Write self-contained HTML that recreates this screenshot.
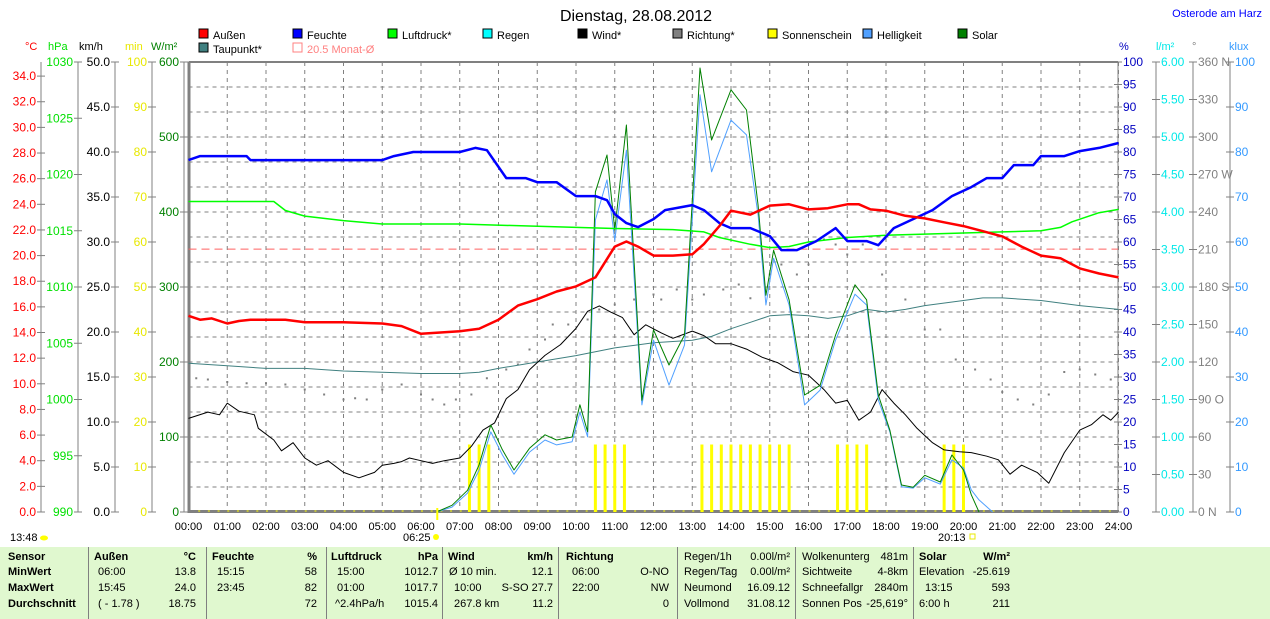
<!DOCTYPE html>
<html><head><meta charset="utf-8">
<style>
body{margin:0;background:#fff;width:1270px;height:619px;overflow:hidden;position:relative;font-family:"Liberation Sans",sans-serif}
svg{position:absolute;left:0;top:0}
#tbl{position:absolute;left:0;top:547px;width:1270px;height:72px;background:#e0f8cf;font-size:11px}
#tbl span{position:absolute;white-space:nowrap}
.b{font-weight:bold}
.sep{position:absolute;top:0;width:1px;height:72px;background:#808080}
</style></head><body>
<svg id="chart" width="1270" height="619"></svg>
<div id="tbl"></div>
<script>
// ---- data ----
const tempT=[0,0.3,0.6,1.0,1.3,1.6,2.0,2.5,3.0,4.0,5.0,5.5,6.0,6.5,7.0,7.5,8.0,8.5,9.0,9.5,10.0,10.5,11.0,11.3,11.6,12.0,12.5,13.0,13.3,13.7,14.0,14.5,15.0,15.5,16.0,16.5,17.0,17.3,17.6,18.0,18.5,19.0,19.5,20.0,20.5,21.0,21.5,22.0,22.5,23.0,23.5,24.0];
const tempV=[15.3,15.0,15.1,14.7,14.9,15.0,15.0,15.0,14.8,14.8,14.7,14.5,13.9,14.0,14.1,14.3,15.0,16.1,16.6,17.2,17.6,18.3,20.7,21.1,20.7,20.0,20.0,20.1,20.9,22.3,23.5,23.2,23.9,24.0,23.6,23.7,24.0,24.0,23.6,23.5,23.1,22.9,22.6,22.3,21.9,21.5,20.7,20.0,19.8,19.0,18.6,18.3];
const humT=[0,0.3,1.5,1.6,5.0,5.3,5.8,7.0,7.4,7.7,8.2,8.7,9.0,9.5,10.0,10.5,10.8,11.0,11.3,11.6,12.0,12.3,13.0,13.3,13.7,14.0,14.5,15.0,15.3,15.7,16.2,16.7,17.0,17.5,17.8,18.2,18.7,19.2,19.7,20.2,20.6,21.0,21.3,21.8,22.0,22.6,23.0,23.5,24.0];
const humV=[78.2,79.1,79.1,78.2,78.2,79.1,80,80,80.9,80.4,74.2,74.2,73.3,73.3,70.2,70.2,69.3,66.2,64.2,63.3,65.1,67.1,68.2,67.1,64.2,63.1,63.1,61.3,58.2,58.2,60.2,63.1,60.2,60.2,59.3,63.1,65.1,67.1,70.2,72.2,74.2,74.2,77.1,77.1,79.1,79.1,80.2,80.9,82];
const presT=[0,2.2,2.5,3,4,5,7,10,11,12.5,13.3,13.7,14.5,15,15.5,16,17,18,19,20,21,22,22.5,22.8,23.5,24];
const presV=[1017.6,1017.6,1016.8,1016.3,1015.9,1015.6,1015.6,1015.3,1015.2,1015.1,1014.9,1014.4,1013.8,1013.5,1013.6,1014.0,1014.4,1014.6,1014.7,1014.8,1014.9,1015.0,1015.3,1015.8,1016.6,1016.9];
const dewT=[0,1,2,3,4,5,6,7,7.5,8,9,10,11,12,13,13.5,14,14.5,15,15.5,16,16.5,17,17.5,18,18.5,19,20,20.5,21,22,23,24];
const dewV=[11.6,11.4,11.2,11.2,11.0,10.9,10.8,10.8,10.9,11.2,11.7,12.2,12.8,13.2,13.4,13.7,14.3,14.8,15.3,15.4,15.3,15.1,15.3,15.8,15.6,15.8,16.1,16.5,16.7,16.7,16.5,16.1,15.8];
const windT=[0,0.5,0.8,1.0,1.3,1.7,1.8,2.2,2.4,2.7,3.0,3.3,3.6,4.0,4.4,4.8,5.0,5.3,5.5,5.7,6.0,6.3,6.6,7.0,7.3,7.6,7.9,8.2,8.5,8.8,9.2,9.6,10.0,10.3,10.6,10.9,11.2,11.5,11.8,12.2,12.5,13.0,13.3,13.6,14.0,14.4,14.8,15.2,15.6,16.0,16.4,16.7,17.0,17.3,17.6,17.9,18.2,18.5,18.8,19.2,19.5,19.9,20.2,20.6,20.9,21.2,21.5,21.9,22.2,22.6,23.0,23.3,23.6,23.8,24.0];
const windV=[10.4,11.1,10.8,12.1,11.2,10.8,9.3,8.0,6.8,7.7,6.0,5.2,5.7,4.4,3.8,4.4,5.2,5.4,5.6,6.0,5.7,5.4,5.7,6.0,7.3,9.1,9.9,12.6,13.6,15.8,17.4,18.6,20.4,22.3,22.9,22.2,21.6,19.7,20.8,19.9,19.3,20.1,19.6,18.7,18.7,18.1,17.2,16.6,15.6,15.2,13.6,12.1,12.4,10.2,11.1,13.6,12.1,10.8,9.3,7.7,6.9,6.7,6.6,6.2,5.8,4.2,5.2,4.4,3.2,6.6,9.1,9.7,10.8,10.2,11.1];
const dirT=[0.2,0.5,1,1.5,2,2.5,3,3.5,4,4.3,4.6,5,5.5,6,6.3,6.6,6.9,7.3,7.7,8.2,8.5,8.8,9.2,9.4,9.8,10.3,10.6,11,11.5,12,12.2,12.6,13,13.3,13.8,14.2,14.5,15,15.3,15.7,16,16.4,16.7,17,17.4,17.9,18.5,19,19.4,19.8,20.3,20.7,21,21.4,21.8,22.2,22.6,23,23.4,23.8];
const dirV=[107,106,104,103,103,102,98,94,90,91,90,98,102,94,90,86,90,94,107,114,118,130,138,150,150,154,162,166,170,174,170,178,170,174,178,182,171,190,198,190,198,218,214,206,214,190,170,146,146,122,114,106,96,90,86,94,112,114,110,106];
const solT=[6.4,6.8,7.2,7.5,7.8,8.1,8.4,8.8,9.2,9.5,9.9,10.1,10.3,10.5,10.8,11.0,11.3,11.7,12.0,12.4,12.8,13.2,13.5,14.0,14.4,14.7,14.9,15.1,15.5,15.9,16.3,16.7,17.2,17.5,17.8,18.1,18.4,18.7,19.0,19.4,19.7,20.0,20.2,20.4];
const solV=[0,9,29,63,116,83,56,85,103,96,100,143,107,427,476,376,516,149,243,196,236,592,496,563,536,409,289,349,283,156,169,236,303,283,156,109,36,33,49,40,76,56,23,0];
const brT=[6.4,6.8,7.2,7.5,7.8,8.1,8.4,8.8,9.2,9.5,9.9,10.1,10.3,10.5,10.8,11.0,11.3,11.7,12.0,12.4,12.8,13.2,13.5,14.0,14.4,14.7,14.9,15.1,15.5,15.9,16.3,16.7,17.2,17.5,17.8,18.1,18.4,18.7,19.0,19.4,19.7,20.0,20.2,20.4,20.75];
const brV=[0,1.1,4.2,9.3,17.8,12.7,8.4,13.3,16,14.9,15.6,22.2,16.7,64.9,73.8,60.4,80.4,23.8,38.2,28.2,37.1,92.7,75.6,87.1,83.8,66,46,56.4,46,23.8,27.1,38.2,48.4,46,24.9,17.8,5.6,5.3,7.6,6.2,11.6,9.8,4.9,2.7,0];
const sunT=[7.25,7.5,7.75,10.5,10.75,11,11.25,13.25,13.5,13.75,14,14.25,14.5,14.75,15,15.25,15.5,16.75,17,17.25,17.5,19.5,19.75,20];
const sunV=[15,15,15,15,15,15,15,15,15,15,15,15,15,15,15,15,15,15,15,15,15,15,15,15];
const monthAvg=20.5;
const xTicks=["00:00","01:00","02:00","03:00","04:00","05:00","06:00","07:00","08:00","09:00","10:00","11:00","12:00","13:00","14:00","15:00","16:00","17:00","18:00","19:00","20:00","21:00","22:00","23:00","24:00"];

// ---- geometry ----
const X0=188.5,XW=38.75,YT=62,YB=512,H=YB-YT;
const sx=h=>X0+h*XW;
const lin=(min,max)=>v=>YB-(v-min)/(max-min)*H;
const yC=lin(0,35.1),yP=lin(990,1030),yW=lin(0,50),yM=lin(0,100),yS=lin(0,600),yH=lin(0,100),yR=lin(0,6),yD=lin(0,360),yK=lin(0,100);
const svg=document.getElementById('chart');const NS='http://www.w3.org/2000/svg';
function el(tag,a,parent){const e=document.createElementNS(NS,tag);for(const k in a)e.setAttribute(k,a[k]);(parent||svg).appendChild(e);return e;}
function txt(x,y,s,col,anchor,size,name){const t=el('text',{x:x,y:y,fill:col,'font-size':size||12,'text-anchor':anchor||'start','font-family':'Liberation Sans, sans-serif'});t.textContent=s;

return t;}

// grid
for(let i=0;i<=18;i++){const y=YB-i*25;const l=el('line',{x1:X0,x2:1118,y1:y,y2:y,stroke:'#808080','stroke-dasharray':'4,4','stroke-width':1});

}
for(let h=1;h<=24;h++){const l=el('line',{x1:sx(h),x2:sx(h),y1:YT,y2:YB,stroke:'#808080','stroke-dasharray':'4,4','stroke-width':1});

}
// frame
let fr=el('line',{x1:X0,x2:1118,y1:YT,y2:YT,stroke:'#808080','stroke-width':2});


fr=el('line',{x1:189,x2:189,y1:YT,y2:513,stroke:'#808080','stroke-width':3});


fr=el('line',{x1:188,x2:1118,y1:511.5,y2:511.5,stroke:'#808080','stroke-width':3});


// 15-min marks
for(let q=1;q<96;q++){const m=el('line',{x1:sx(q/4),x2:sx(q/4)+2,y1:511,y2:511,stroke:'#ffff00','stroke-width':1});

}
// x labels
xTicks.forEach((s,i)=>txt(sx(i),530,s,'#000','middle',11,'x-tick-label'));

// axes
function axis(xl,min,max,step,yf,col,fmt,side,name,extra){
 const a=el('line',{x1:xl,x2:xl,y1:YT,y2:YB,stroke:'#808080','stroke-width':1});
 
 
 for(let v=min;v<=max+1e-9;v+=step){const y=yf(v);
  const t=el('line',{x1:xl-4,x2:xl+4,y1:y,y2:y,stroke:'#808080'});
  
  
  const s=fmt(v)+(extra&&extra[Math.round(v)]?extra[Math.round(v)]:'');
  if(side<0)txt(xl-5,y+4,s,col,'end',12,name+'-tick-label');else txt(xl+5,y+4,s,col,'start',12,name+'-tick-label');}
}
axis(41,0,34,2,yC,'#ff0000',v=>v.toFixed(1),-1,'temp');
axis(78,990,1030,5,yP,'#00e000',v=>String(v),-1,'pressure');
axis(115,0,50,5,yW,'#000',v=>v.toFixed(1),-1,'wind');
axis(152,0,100,10,yM,'#e8e800',v=>String(v),-1,'sunshine');
axis(184,0,600,100,yS,'#008000',v=>String(v),-1,'solar');
axis(1118,0,100,5,yH,'#0000c0',v=>String(v),1,'humidity');
axis(1156,0,6,0.5,yR,'#00e8e8',v=>v.toFixed(2),1,'rain');
axis(1193,0,360,30,yD,'#808080',v=>String(v),1,'direction',{0:' N',90:' O',180:' S',270:' W',360:' N'});
axis(1230,0,100,10,yK,'#3399ff',v=>String(v),1,'brightness');
// units
[[25,'°C','#ff0000'],[48,'hPa','#00e000'],[79,'km/h','#000'],[125,'min','#e8e800'],[151,'W/m²','#008000'],[1119,'%','#0000c0'],[1156,'l/m²','#00e8e8'],[1192,'°','#808080'],[1229,'klux','#3399ff']].forEach(u=>txt(u[0],50,u[1],u[2],'start',11,'unit-label'));

// title
txt(636,21,'Dienstag, 28.08.2012','#000','middle',16,'chart-title');
txt(1262,17,'Osterode am Harz','#0000ff','end',11,'location-label');
// legend
const leg=[[199,38,'#ff0000','Außen'],[293,38,'#0000ff','Feuchte'],[388,38,'#00ff00','Luftdruck*'],[483,38,'#00ffff','Regen'],[578,38,'#000000','Wind*'],[673,38,'#808080','Richtung*'],[768,38,'#ffff00','Sonnenschein'],[863,38,'#50a0ff','Helligkeit'],[958,38,'#008000','Solar'],[199,52,'#408080','Taupunkt*']];
leg.forEach(l=>{const r=el('rect',{x:l[0],y:l[1]-9,width:9,height:9,fill:l[2],stroke:'#000'});


txt(l[0]+14,l[1]+1,l[3],'#000','start',11,'legend-entry');});
const mr=el('rect',{x:293,y:43,width:9,height:9,fill:'none',stroke:'#ff8080'});


txt(307,53,'20.5 Monat-Ø','#ff8080','start',11,'legend-entry');

// series
function line(T,V,yf,col,w,name){const p=T.map((t,i)=>sx(t).toFixed(1)+','+yf(V[i]).toFixed(1)).join(' ');
 const e=el('polyline',{points:p,fill:'none',stroke:col,'stroke-width':w,'stroke-linejoin':'round'});
 
 }
// sunshine bars
sunT.forEach((t,i)=>{const y=yM(sunV[i]);const b=el('rect',{x:sx(t)-1.5,y:y,width:3,height:YB-y,fill:'#ffff00'});

});
const ma=el('line',{x1:X0,x2:1118,y1:yC(monthAvg),y2:yC(monthAvg),stroke:'#ff6060','stroke-dasharray':'8,5','stroke-width':1});


dirT.forEach((t,i)=>{const d=el('rect',{x:sx(t)-1,y:yD(dirV[i])-1,width:2,height:2,fill:'#808080'});

});
line(dewT,dewV,yC,'#408080',1,'dewpoint-line');
line(windT,windV,yW,'#000',1,'wind-line');
line(brT,brV,yK,'#50a0ff',1,'brightness-line');
line(solT,solV,yS,'#008000',1,'solar-line');
line(presT,presV,yP,'#00ff00',1.5,'pressure-line');
line(humT,humV,yH,'#0000ff',2.5,'humidity-line');
line(tempT,tempV,yC,'#ff0000',2.5,'temperature-line');
// sun markers
txt(10,541,'13:48','#000','start',11,'moon-time');
const sm=el('ellipse',{cx:44,cy:538,rx:4,ry:2.5,fill:'#ffff00'});
txt(403,541,'06:25','#000','start',11,'sunrise-time');
const sr=el('circle',{cx:436,cy:537,r:3,fill:'#ffff00'});
const st=el('line',{x1:sx(6.42),x2:sx(6.42),y1:508,y2:520,stroke:'#ffff00','stroke-width':2});
txt(938,541,'20:13','#000','start',11,'sunset-time');
const ss=el('rect',{x:970,y:534,width:5,height:5,fill:'none',stroke:'#e8e800'});

// table
const tbl=document.getElementById('tbl');
const rows=[15,30,46,62];
function cell(x,r,s,bold,right){const e=document.createElement('span');e.textContent=s;if(bold)e.className='b';
 e.style.top=(rows[r]-11)+'px';if(right){e.style.right=(1270-x)+'px';}else e.style.left=x+'px';
 
 tbl.appendChild(e);}
[88,206,326,442,558,677,795,913].forEach(x=>{const d=document.createElement('div');d.className='sep';d.style.left=x+'px';

tbl.appendChild(d);});
['Sensor','MinWert','MaxWert','Durchschnitt'].forEach((s,i)=>cell(8,i,s,true));
cell(94,0,'Außen',true);cell(196,0,'°C',true,1);cell(98,1,'06:00');cell(196,1,'13.8',0,1);cell(98,2,'15:45');cell(196,2,'24.0',0,1);cell(98,3,'( - 1.78 )');cell(196,3,'18.75',0,1);
cell(212,0,'Feuchte',true);cell(317,0,'%',true,1);cell(217,1,'15:15');cell(317,1,'58',0,1);cell(217,2,'23:45');cell(317,2,'82',0,1);cell(317,3,'72',0,1);
cell(331,0,'Luftdruck',true);cell(438,0,'hPa',true,1);cell(337,1,'15:00');cell(438,1,'1012.7',0,1);cell(337,2,'01:00');cell(438,2,'1017.7',0,1);cell(335,3,'^2.4hPa/h');cell(438,3,'1015.4',0,1);
cell(448,0,'Wind',true);cell(553,0,'km/h',true,1);cell(449,1,'Ø 10 min.');cell(553,1,'12.1',0,1);cell(454,2,'10:00');cell(553,2,'S-SO 27.7',0,1);cell(454,3,'267.8 km');cell(553,3,'11.2',0,1);
cell(566,0,'Richtung',true);cell(572,1,'06:00');cell(669,1,'O-NO',0,1);cell(572,2,'22:00');cell(669,2,'NW',0,1);cell(669,3,'0',0,1);
cell(684,0,'Regen/1h');cell(790,0,'0.00l/m²',0,1);cell(684,1,'Regen/Tag');cell(790,1,'0.00l/m²',0,1);cell(684,2,'Neumond');cell(790,2,'16.09.12',0,1);cell(684,3,'Vollmond');cell(790,3,'31.08.12',0,1);
cell(802,0,'Wolkenunterg');cell(908,0,'481m',0,1);cell(802,1,'Sichtweite');cell(908,1,'4-8km',0,1);cell(802,2,'Schneefallgr');cell(908,2,'2840m',0,1);cell(802,3,'Sonnen Pos');cell(908,3,'-25,619°',0,1);
cell(919,0,'Solar',true);cell(1010,0,'W/m²',true,1);cell(919,1,'Elevation');cell(1010,1,'-25.619',0,1);cell(925,2,'13:15');cell(1010,2,'593',0,1);cell(919,3,'6:00 h');cell(1010,3,'211',0,1);
</script>
</body></html>
